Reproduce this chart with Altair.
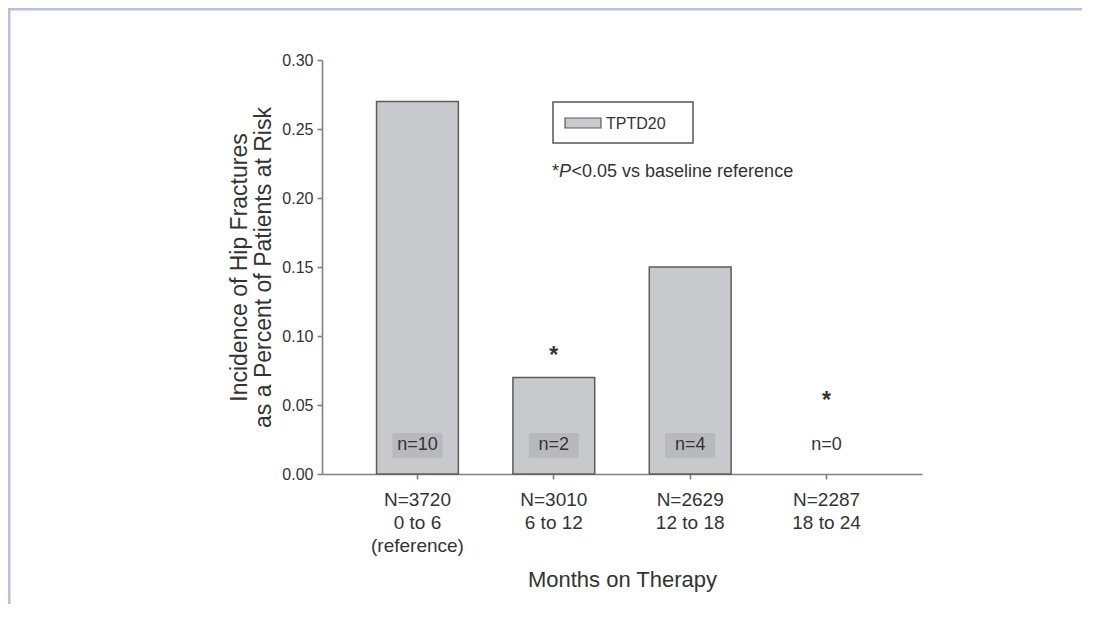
import altair as alt
import pandas as pd

# ---- data ----
periods = ["0 to 6", "6 to 12", "12 to 18", "18 to 24"]
n_at_risk = [3720, 3010, 2629, 2287]
notes = ["(reference)", "", "", ""]
incidence = [0.27, 0.07, 0.15, 0.00]
fractures = [10, 2, 4, 0]
significant = [False, True, False, True]
y_ticks = [0.0, 0.05, 0.10, 0.15, 0.20, 0.25, 0.30]

labels = []
for p, n, note in zip(periods, n_at_risk, notes):
    parts = [f"N={n}", p] + ([note] if note else [])
    labels.append("|".join(parts))

df = pd.DataFrame({
    "label": labels,
    "incidence": incidence,
    "fractures": fractures,
    "nlab": [f"n={f}" for f in fractures],
    "sig": significant,
})

FONT = "Liberation Sans"
TXT = "#333333"
AX = "#808080"
BAR = "#c8c9cd"
BAR_STROKE = "#5c5c5c"
LAB_BG = "#b8b9bd"
FRAME = "#b8c0dc"

x_enc = alt.X(
    "label:N",
    sort=labels,
    scale=alt.Scale(paddingInner=0.4, paddingOuter=0.4),
    axis=alt.Axis(
        title="Months on Therapy",
        labelExpr="split(datum.label, '|')",
        labelAngle=0,
        labelFont=FONT,
        labelFontSize=19,
        labelLineHeight=23,
        labelColor=TXT,
        labelBaseline="top",
        labelPadding=11,
        tickSize=5,
        tickColor=AX,
        tickWidth=1.6,
        domainColor=AX,
        domainWidth=1.6,
        titleFont=FONT,
        titleFontSize=22,
        titleFontWeight="normal",
        titleColor=TXT,
        titleBaseline="alphabetic",
        titleY=112,
    ),
)

y_enc = alt.Y(
    "incidence:Q",
    scale=alt.Scale(domain=[0, 0.3], nice=False),
    axis=alt.Axis(
        values=y_ticks,
        format=".2f",
        title=["Incidence of Hip  Fractures", "as a Percent of Patients at Risk"],
        labelFont=FONT,
        labelFontSize=16,
        labelColor=TXT,
        labelPadding=4,
        tickSize=5,
        tickColor=AX,
        tickWidth=1.6,
        domainColor=AX,
        domainWidth=1.6,
        grid=False,
        titleFont=FONT,
        titleFontSize=23,
        titleFontWeight="normal",
        titleColor=TXT,
        titleAngle=270,
        titleBaseline="alphabetic",
        titleAlign="center",
        titleLineHeight=24,
        titleX=-76,
        titleY=207,
    ),
)

base = alt.Chart(df)

bars = base.mark_bar(fill=BAR, stroke=BAR_STROKE, strokeWidth=1.5).encode(
    x=x_enc,
    y=y_enc,
    opacity=alt.condition(alt.datum.incidence > 0, alt.value(1), alt.value(0)),
)

lab_bg = base.transform_filter(alt.datum.incidence > 0).mark_bar(
    size=50, fill=LAB_BG
).encode(
    x=alt.X("label:N", sort=labels),
    y=alt.value(373),
    y2=alt.value(398),
)

n_text = base.mark_text(
    font=FONT, fontSize=18, color=TXT, baseline="middle"
).encode(
    x=alt.X("label:N", sort=labels),
    y=alt.value(385),
    text="nlab:N",
)

stars = base.transform_filter(alt.datum.sig).transform_calculate(
    star_y="max(datum.incidence + 0.02, 0.057)"
).mark_text(
    text="*", font=FONT, fontSize=23, fontWeight="bold", color=TXT,
    baseline="alphabetic", dy=13
).encode(
    x=alt.X("label:N", sort=labels),
    y=alt.Y("star_y:Q"),
)

one = alt.Chart(pd.DataFrame({"k": [0]}))

legend_box = one.mark_rect(fill="white", stroke="#555555", strokeWidth=1.5).encode(
    x=alt.value(231), x2=alt.value(371), y=alt.value(42), y2=alt.value(83)
)
legend_swatch = one.mark_rect(fill=BAR, stroke=BAR_STROKE, strokeWidth=1.2).encode(
    x=alt.value(243), x2=alt.value(279), y=alt.value(58), y2=alt.value(68)
)
legend_text = one.mark_text(
    text="TPTD20", font=FONT, fontSize=16, color=TXT, align="left", baseline="alphabetic"
).encode(x=alt.value(284), y=alt.value(68.7))

p_star = one.mark_text(
    text="*", font=FONT, fontSize=18, color=TXT, align="left", baseline="alphabetic"
).encode(x=alt.value(230), y=alt.value(117))
p_ital = one.mark_text(
    text="P", font=FONT, fontSize=18, fontStyle="italic", color=TXT, align="left",
    baseline="alphabetic"
).encode(x=alt.value(237), y=alt.value(117))
p_rest = one.mark_text(
    text="<0.05 vs baseline reference", font=FONT, fontSize=18, color=TXT,
    align="left", baseline="alphabetic"
).encode(x=alt.value(249.5), y=alt.value(117))

frame_top = one.mark_rule(color=FRAME, strokeWidth=3).encode(
    x=alt.value(-314), x2=alt.value(770), y=alt.value(-51)
)
frame_left = one.mark_rule(color=FRAME, strokeWidth=3).encode(
    x=alt.value(-313), y=alt.value(-52), y2=alt.value(560)
)

chart = alt.layer(
    frame_top, frame_left,
    bars, lab_bg, n_text, stars,
    legend_box, legend_swatch, legend_text,
    p_star, p_ital, p_rest,
).properties(
    width=600,
    height=414,
    autosize=alt.AutoSizeParams(type="none"),
    padding={"left": 314, "top": 52, "right": 160, "bottom": 130},
    background="white",
).configure_view(stroke=None)

chart.save("out.html", embed_options={"renderer": "svg", "actions": False})
